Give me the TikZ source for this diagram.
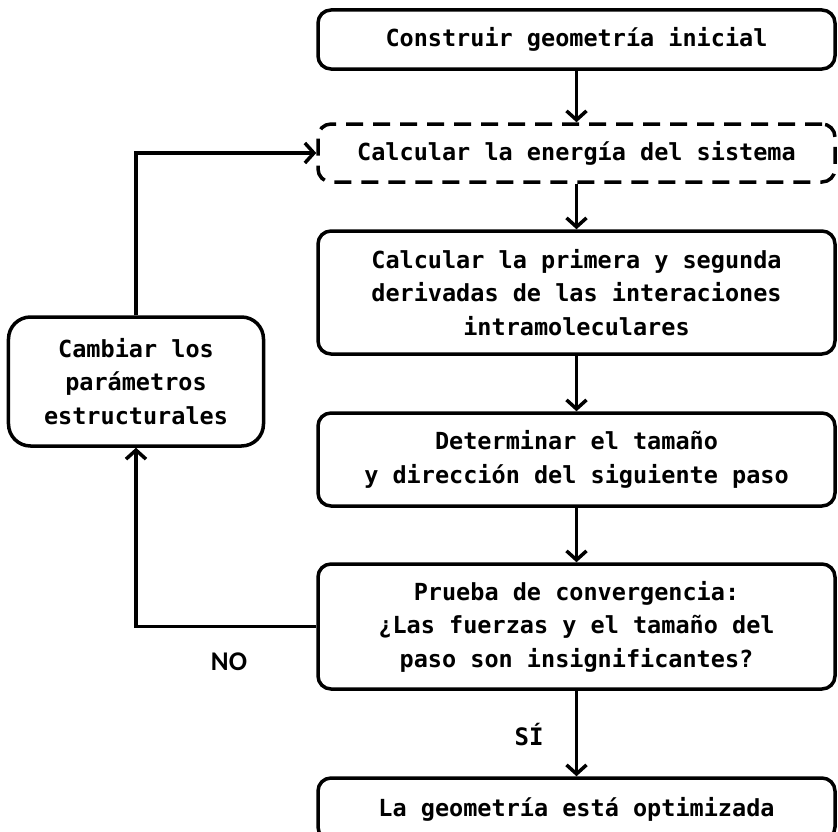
\documentclass[tikz,border=0pt]{standalone}
\usepackage{fontspec}
\setmonofont{DejaVu Sans Mono}
\newfontfamily\nofont{Carlito}
\usetikzlibrary{arrows.meta}
\begin{document}
\begin{tikzpicture}[x=1bp,y=-1bp,
  box/.style={draw, line width=3.5bp, rounded corners=13bp, minimum width=517bp,
    align=center, inner sep=0pt,
    font=\ttfamily\bfseries\fontsize{23.5bp}{33.5bp}\selectfont},
  dashbox/.style={box, dash pattern=on 17bp off 10bp},
  sidebox/.style={box, rounded corners=22bp, minimum width=255bp},
  conn/.style={line width=3.5bp, -{Straight Barb[length=9bp,width=20bp,line width=3.5bp]}},
  lab/.style={inner sep=0pt}]
\useasboundingbox (0,0) rectangle (838,832);
\node[box, minimum height=59bp] (b1) at (576.5,39.5) {Construir geometría inicial};
\node[dashbox, minimum height=58bp] (b2) at (576.5,153) {Calcular la energía del sistema};
\node[box, minimum height=123bp] (b3) at (576.5,292.5) {Calcular la primera y segunda\\derivadas de las interaciones\\intramoleculares};
\node[box, minimum height=93bp] (b4) at (576.5,459.5) {Determinar el tamaño\\y dirección del siguiente paso};
\node[box, minimum height=125bp] (b5) at (576.5,626.5) {Prueba de convergencia:\\¿Las fuerzas y el tamaño del\\paso son insignificantes?};
\node[box, minimum height=62bp] (b6) at (576.5,809) {La geometría está optimizada};
\node[sidebox, minimum height=129bp] (side) at (136,381.5) {Cambiar los\\parámetros\\estructurales};
\node[lab, font=\nofont\bfseries\fontsize{27bp}{30bp}\selectfont] (no) at (229,662) {NO};
\node[lab, font=\ttfamily\bfseries\fontsize{24bp}{28bp}\selectfont] (si) at (529,735) {SÍ};
\draw[conn] (b1.south) -- (b2.north);
\draw[conn] (b2.south) -- (b3.north);
\draw[conn] (b3.south) -- (b4.north);
\draw[conn] (b4.south) -- (b5.north);
\draw[conn] (b5.south) -- (b6.north);
\draw[conn] (b5.west) -| (side.south);
\draw[conn] (side.north) |- (b2.west);
\end{tikzpicture}
\end{document}
